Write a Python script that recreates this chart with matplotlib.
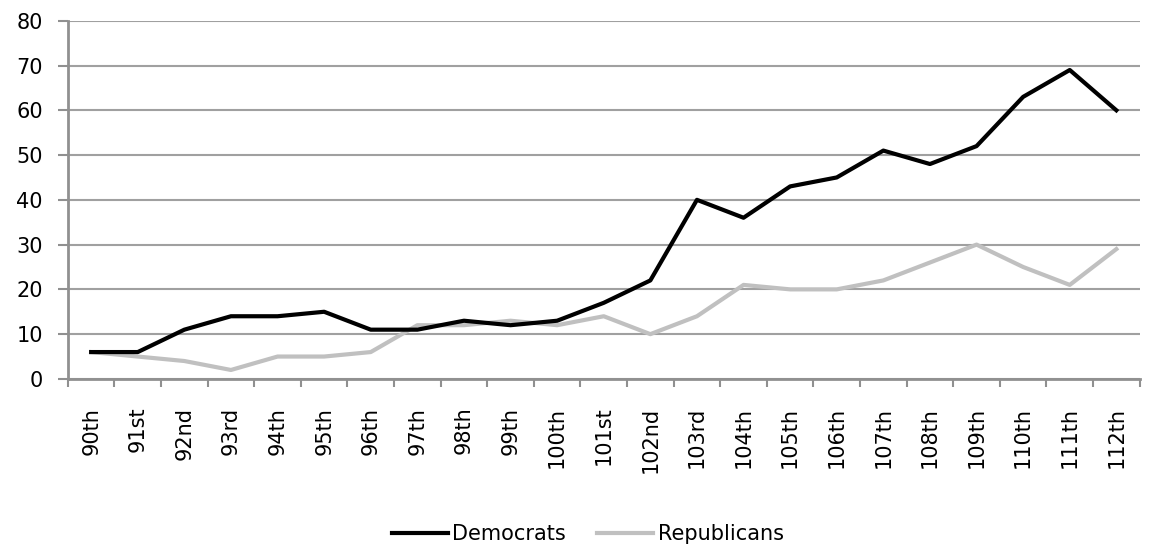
import matplotlib.pyplot as plt
import numpy as np

# Data
congresses = ["90th", "91st", "92nd", "93rd", "94th", "95th", "96th", "97th", "98th", "99th",
              "100th", "101st", "102nd", "103rd", "104th", "105th", "106th", "107th", "108th",
              "109th", "110th", "111th", "112th"]
democrats = [6, 6, 11, 14, 14, 15, 11, 11, 13, 12, 13, 17, 22, 40, 36, 43, 45, 51, 48, 52, 63, 69, 60]
republicans = [6, 5, 4, 2, 5, 5, 6, 12, 12, 13, 12, 14, 10, 14, 21, 20, 20, 22, 26, 30, 25, 21, 29]

plt.rcParams['font.family'] = ['DejaVu Sans']

fig = plt.figure(figsize=(11.5, 5.46), dpi=100)
ax = fig.add_axes([0.059, 0.306, 0.932, 0.656])

x = np.arange(len(congresses))
ax.plot(x, democrats, color='black', linewidth=3.0, label='Democrats', zorder=3)
ax.plot(x, republicans, color='#c0c0c0', linewidth=3.0, label='Republicans', zorder=2)

ax.set_xlim(-0.5, len(congresses) - 0.5)
ax.set_ylim(0, 80)
ax.set_yticks(range(0, 81, 10))
ax.yaxis.grid(True, color='#a0a0a0', linewidth=1.5)
ax.set_axisbelow(True)

ax.set_xticks(x)
ax.set_xticklabels(congresses, rotation=90, fontsize=15)
ax.set_xticks(np.arange(-0.5, len(congresses), 1), minor=True)
ax.tick_params(axis='x', which='major', length=0, pad=20)
ax.tick_params(axis='x', which='minor', length=6, width=1.5, color='#909090')
ax.tick_params(axis='y', length=7, width=1.5, color='#909090', labelsize=15, pad=11)

for side in ['top', 'right']:
    ax.spines[side].set_visible(False)
ax.spines['left'].set_color('#909090')
ax.spines['left'].set_linewidth(2)
ax.spines['bottom'].set_color('#909090')
ax.spines['bottom'].set_linewidth(2)

fig.legend(loc='center', bbox_to_anchor=(0.511, 0.022), ncol=2, frameon=False,
           fontsize=15, handlelength=2.7, handletextpad=0.2, columnspacing=1.5)

fig.savefig('out.png', dpi=100)
